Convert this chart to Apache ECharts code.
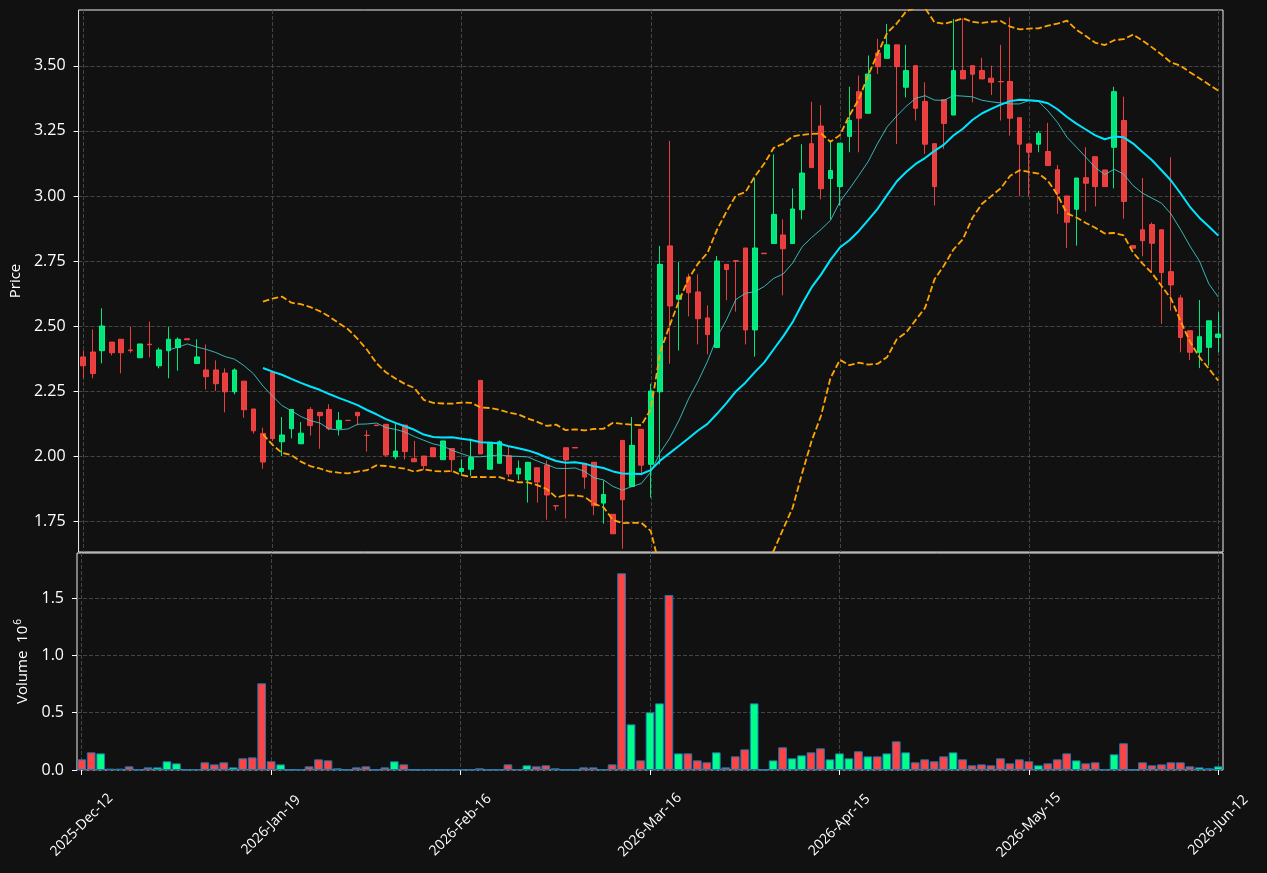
<!DOCTYPE html>
<html><head><meta charset="utf-8">
<script src="https://cdn.jsdelivr.net/npm/echarts@6/dist/echarts.min.js"></script>
<style>html,body{margin:0;padding:0;background:#111111;}#chart{width:1267px;height:873px;}</style>
</head><body><div id="chart"></div>
<script>
const DATES = [
'2025-Dec-12','2025-Dec-15','2025-Dec-16','2025-Dec-17','2025-Dec-18','2025-Dec-19','2025-Dec-22','2025-Dec-23','2025-Dec-29','2025-Dec-30',
'2025-Dec-31','2026-Jan-05','2026-Jan-06','2026-Jan-07','2026-Jan-08','2026-Jan-09','2026-Jan-12','2026-Jan-13','2026-Jan-14','2026-Jan-15',
'2026-Jan-19','2026-Jan-20','2026-Jan-21','2026-Jan-22','2026-Jan-23','2026-Jan-26','2026-Jan-27','2026-Jan-28','2026-Jan-29','2026-Jan-30',
'2026-Feb-02','2026-Feb-03','2026-Feb-04','2026-Feb-05','2026-Feb-06','2026-Feb-09','2026-Feb-10','2026-Feb-11','2026-Feb-12','2026-Feb-13',
'2026-Feb-16','2026-Feb-17','2026-Feb-18','2026-Feb-19','2026-Feb-20','2026-Feb-23','2026-Feb-24','2026-Feb-25','2026-Feb-26','2026-Feb-27',
'2026-Mar-02','2026-Mar-03','2026-Mar-04','2026-Mar-05','2026-Mar-06','2026-Mar-09','2026-Mar-10','2026-Mar-11','2026-Mar-12','2026-Mar-13',
'2026-Mar-16','2026-Mar-17','2026-Mar-18','2026-Mar-19','2026-Mar-20','2026-Mar-23','2026-Mar-24','2026-Mar-25','2026-Mar-26','2026-Mar-27',
'2026-Mar-30','2026-Apr-01','2026-Apr-02','2026-Apr-06','2026-Apr-07','2026-Apr-08','2026-Apr-09','2026-Apr-10','2026-Apr-13','2026-Apr-14',
'2026-Apr-15','2026-Apr-16','2026-Apr-17','2026-Apr-20','2026-Apr-21','2026-Apr-22','2026-Apr-23','2026-Apr-27','2026-Apr-28','2026-Apr-29',
'2026-Apr-30','2026-May-04','2026-May-05','2026-May-06','2026-May-07','2026-May-08','2026-May-11','2026-May-12','2026-May-13','2026-May-14',
'2026-May-15','2026-May-18','2026-May-19','2026-May-20','2026-May-21','2026-May-22','2026-May-25','2026-May-26','2026-May-27','2026-May-28',
'2026-May-29','2026-Jun-01','2026-Jun-02','2026-Jun-03','2026-Jun-04','2026-Jun-05','2026-Jun-08','2026-Jun-09','2026-Jun-10','2026-Jun-11',
'2026-Jun-12'];

const OPEN = [
2.381,2.400,2.405,2.438,2.449,2.408,2.378,2.430,2.347,2.405,
2.417,2.451,2.356,2.331,2.331,2.319,2.247,2.288,2.181,2.087,
2.321,2.055,2.105,2.047,2.179,2.168,2.179,2.105,2.137,2.168,
2.080,2.119,2.122,1.997,2.119,1.990,2.000,2.032,1.986,2.029,
1.941,1.949,2.291,1.949,1.972,2.001,1.931,1.908,1.955,1.965,
1.809,2.032,2.033,1.971,1.976,1.819,1.776,2.060,1.883,2.103,
1.968,2.247,2.808,2.603,2.688,2.631,2.531,2.417,2.737,2.751,
2.800,2.485,2.780,2.817,2.850,2.817,2.947,3.201,3.269,3.067,
3.036,3.229,3.401,3.318,3.550,3.529,3.581,3.418,3.501,3.363,
3.201,3.370,3.311,3.482,3.501,3.482,3.453,3.440,3.440,3.301,
3.200,3.199,3.171,3.101,3.000,2.949,3.070,3.151,3.100,3.187,
3.290,2.809,2.870,2.890,2.870,2.709,2.608,2.482,2.399,2.418,
2.456];
const HIGH = [
2.406,2.487,2.568,2.438,2.449,2.497,2.431,2.517,2.417,2.497,
2.456,2.452,2.449,2.429,2.368,2.337,2.337,2.288,2.181,2.109,
2.321,2.150,2.179,2.131,2.188,2.168,2.199,2.169,2.137,2.168,
2.099,2.119,2.122,2.131,2.119,2.058,2.000,2.032,2.058,2.029,
1.988,2.067,2.291,2.053,2.060,2.038,1.983,1.976,1.955,1.983,
1.809,2.032,2.033,1.971,1.976,1.906,1.776,2.060,2.150,2.103,
2.278,2.808,3.212,2.747,2.701,2.699,2.579,2.769,2.737,2.753,
2.800,3.068,2.780,3.160,2.910,3.029,3.199,3.362,3.349,3.212,
3.203,3.420,3.463,3.540,3.604,3.661,3.581,3.581,3.501,3.437,
3.201,3.370,3.681,3.683,3.501,3.531,3.501,3.581,3.687,3.301,
3.200,3.250,3.281,3.119,3.000,3.069,3.187,3.151,3.100,3.420,
3.382,2.809,3.069,2.898,2.870,3.149,2.619,2.482,2.600,2.520,
2.553];
const LOW = [
2.299,2.299,2.356,2.387,2.318,2.397,2.378,2.379,2.337,2.299,
2.328,2.446,2.356,2.256,2.250,2.168,2.237,2.147,2.086,1.951,
2.058,2.000,2.068,2.047,2.079,2.028,2.099,2.079,2.137,2.118,
2.017,2.117,1.997,1.987,1.987,1.978,1.946,1.997,1.986,1.938,
1.924,1.924,2.008,1.949,1.972,1.919,1.908,1.821,1.821,1.755,
1.791,1.760,2.031,1.874,1.773,1.740,1.701,1.644,1.880,1.926,
1.840,1.968,2.355,2.406,2.537,2.429,2.391,2.417,2.599,2.555,
2.429,2.382,2.778,2.817,2.618,2.817,2.910,3.109,2.987,2.910,
2.963,3.168,3.168,3.318,3.469,3.529,3.200,3.379,3.290,3.162,
2.963,3.181,3.311,3.450,3.360,3.450,3.388,3.290,3.232,2.999,
2.999,3.168,3.117,2.931,2.800,2.809,2.940,2.960,3.036,3.029,
2.912,2.799,2.768,2.706,2.508,2.559,2.399,2.369,2.338,2.347,
2.399];
const CLOSE = [
2.347,2.317,2.500,2.397,2.397,2.405,2.431,2.428,2.408,2.449,
2.449,2.447,2.381,2.305,2.278,2.247,2.331,2.178,2.097,1.977,
2.067,2.081,2.179,2.088,2.117,2.155,2.105,2.137,2.137,2.155,
2.079,2.117,2.004,2.019,2.017,1.978,1.963,1.997,2.058,1.986,
1.952,1.994,2.008,2.053,2.055,1.931,1.953,1.976,1.900,1.850,
1.808,1.985,2.031,1.919,1.809,1.852,1.701,1.832,2.041,1.965,
2.250,2.737,2.577,2.618,2.628,2.528,2.467,2.750,2.717,2.749,
2.485,2.800,2.778,2.929,2.797,2.950,3.088,3.109,3.028,3.098,
3.203,3.290,3.299,3.469,3.497,3.581,3.497,3.482,3.337,3.199,
3.036,3.279,3.482,3.450,3.468,3.450,3.437,3.439,3.299,3.199,
3.168,3.241,3.117,3.010,2.899,3.069,3.049,3.036,3.036,3.401,
2.979,2.799,2.828,2.818,2.706,2.658,2.456,2.399,2.459,2.520,
2.469];
const VOLUME = [
93000,154000,145000,12000,12000,32000,3000,23000,23000,76000,
58000,0,6000,67000,49000,67000,23000,102000,110000,756000,
76000,49000,0,3000,32000,93000,84000,15000,0,23000,
32000,0,23000,76000,49000,0,4000,4000,0,4000,
4000,3000,15000,2000,2000,49000,6000,41000,32000,41000,
15000,0,0,23000,23000,3000,49000,1715000,398000,84000,
503000,581000,1526000,145000,145000,84000,67000,154000,23000,119000,
180000,581000,0,84000,198000,102000,128000,154000,189000,93000,
145000,102000,163000,119000,119000,145000,250000,154000,67000,93000,
76000,119000,154000,93000,41000,49000,41000,102000,58000,93000,
76000,41000,58000,93000,145000,84000,58000,67000,4000,137000,
233000,0,67000,41000,49000,67000,67000,32000,23000,15000,
32000];
const PRICE_TICKS = [1.75, 2.00, 2.25, 2.50, 2.75, 3.00, 3.25, 3.50];
const VOLUME_TICKS = [0, 500000, 1000000, 1500000];

const MA_SHORT = 10, MA_LONG = 20, BAND_K = 2;
const UP = '#00ff88', DOWN = '#ff4444';

function movingAverage(values, n) {
  return values.map(function (v, i) {
    if (i < n - 1) return null;
    let s = 0;
    for (let k = i - n + 1; k <= i; k++) s += values[k];
    return s / n;
  });
}
function band(values, n, k, sign) {
  const ma = movingAverage(values, n);
  return values.map(function (v, i) {
    if (ma[i] == null) return null;
    let s = 0;
    for (let j = i - n + 1; j <= i; j++) s += (values[j] - ma[i]) * (values[j] - ma[i]);
    return ma[i] + sign * k * Math.sqrt(s / n);
  });
}
const candleData = OPEN.map(function (o, i) { return [o, CLOSE[i], LOW[i], HIGH[i]]; });
const volData = VOLUME.map(function (v, i) {
  return { value: v, itemStyle: { color: CLOSE[i] >= OPEN[i] ? UP : DOWN } };
});
const maS = movingAverage(CLOSE, MA_SHORT);
const maL = movingAverage(CLOSE, MA_LONG);
const upper = band(CLOSE, MA_LONG, BAND_K, 1);
const lower = band(CLOSE, MA_LONG, BAND_K, -1);

function isMult(v, step) { return Math.abs(v / step - Math.round(v / step)) < 1e-6; }
const FONT = 'Open Sans';
const TXT = '#ffffff';
const GRIDLINE = { show: true, lineStyle: { color: '#444444', width: 1, type: [4, 2] } };

const chart = echarts.init(document.getElementById('chart'), null, { renderer: 'canvas' });
chart.setOption({
  animation: false,
  backgroundColor: '#111111',
  textStyle: { fontFamily: FONT },
  grid: [
    { left: 77, right: 44, top: 10, height: 542, show: true, borderColor: '#eeeeee', borderWidth: 1, backgroundColor: '#111111' },
    { left: 77, right: 44, top: 553, height: 217, show: true, borderColor: '#eeeeee', borderWidth: 1, backgroundColor: '#111111' }
  ],
  xAxis: [
    { type: 'category', gridIndex: 0, data: DATES, boundaryGap: true,
      axisLine: { show: false }, axisTick: { show: false }, axisLabel: { show: false },
      splitLine: Object.assign({ interval: 19, alignWithLabel: true }, GRIDLINE) },
    { type: 'category', gridIndex: 1, data: DATES, boundaryGap: true,
      axisLine: { show: false },
      axisTick: { show: true, interval: 19, alignWithLabel: true, length: 5, lineStyle: { color: '#ffffff' } },
      axisLabel: { interval: 19, rotate: 45, align: 'center', verticalAlign: 'middle', margin: 55,
        color: TXT, fontSize: 14, fontFamily: FONT },
      splitLine: Object.assign({ interval: 19, alignWithLabel: true }, GRIDLINE) }
  ],
  yAxis: [
    { type: 'value', gridIndex: 0, min: 1.631, max: 3.715, minInterval: 0.25, maxInterval: 0.25, splitNumber: 8,
      name: 'Price', nameLocation: 'middle', nameGap: 51,
      nameTextStyle: { color: TXT, fontSize: 15, fontFamily: FONT },
      axisLine: { show: false },
      axisTick: { show: true, length: 5, customValues: PRICE_TICKS, lineStyle: { color: '#ffffff' } },
      axisLabel: { color: TXT, fontSize: 16, fontFamily: FONT, margin: 13, customValues: PRICE_TICKS,
        formatter: function (v) { return isMult(v, 0.25) ? v.toFixed(2) : ''; } },
      splitLine: GRIDLINE },
    { type: 'value', gridIndex: 1, min: 0, max: 1892000, interval: 500000,
      name: 'Volume  10{sup|6}', nameLocation: 'middle', nameGap: 41,
      nameTextStyle: { color: TXT, fontSize: 15, fontFamily: FONT,
        rich: { sup: { color: TXT, fontSize: 10, fontFamily: FONT, verticalAlign: 'top', padding: [0, 0, 9, 1] } } },
      axisLine: { show: false },
      axisTick: { show: true, length: 5, customValues: VOLUME_TICKS, lineStyle: { color: '#ffffff' } },
      axisLabel: { color: TXT, fontSize: 16, fontFamily: FONT, margin: 13, customValues: VOLUME_TICKS,
        formatter: function (v) { return isMult(v, 500000) ? (v / 1e6).toFixed(1) : ''; } },
      splitLine: GRIDLINE }
  ],
  series: [
    { type: 'candlestick', xAxisIndex: 0, yAxisIndex: 0, data: candleData, barWidth: '55%',
      itemStyle: { color: UP, color0: DOWN, borderColor: UP, borderColor0: DOWN, borderColorDoji: DOWN, borderWidth: 1, opacity: 0.9 } },
    { type: 'line', xAxisIndex: 0, yAxisIndex: 0, data: maS, symbol: 'none', silent: true,
      lineStyle: { color: '#40d0d0', width: 1, opacity: 0.85 } },
    { type: 'line', xAxisIndex: 0, yAxisIndex: 0, data: maL, symbol: 'none', silent: true,
      lineStyle: { color: '#00e5ff', width: 2 } },
    { type: 'line', xAxisIndex: 0, yAxisIndex: 0, data: upper, symbol: 'none', silent: true,
      lineStyle: { color: '#ffa500', width: 1.8, type: [6.5, 2.8] } },
    { type: 'line', xAxisIndex: 0, yAxisIndex: 0, data: lower, symbol: 'none', silent: true,
      lineStyle: { color: '#ffa500', width: 1.8, type: [6.5, 2.8] } },
    { type: 'bar', xAxisIndex: 1, yAxisIndex: 1, data: volData, barCategoryGap: '8%',
      itemStyle: { borderColor: '#1f77b4', borderWidth: 1 } }
  ]
});
</script></body></html>
